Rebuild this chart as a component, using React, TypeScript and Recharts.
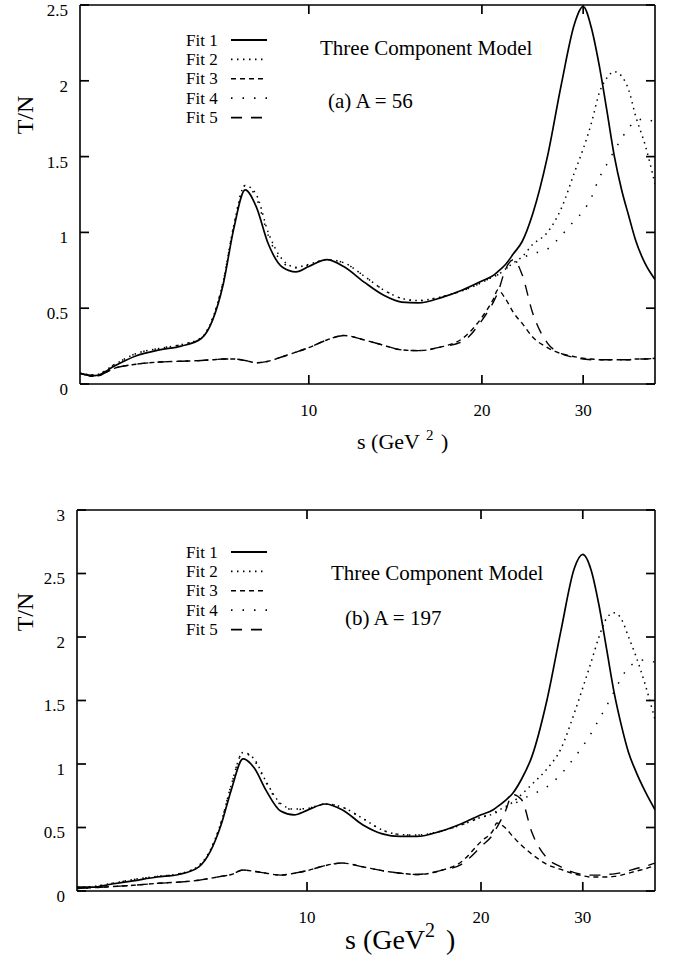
import React from 'react';
import { LineChart, Line, XAxis, YAxis, Legend } from 'recharts';

// s (GeV^2) sample points shared by all curves
const sValues = [4, 4.25, 4.6, 5, 5.5, 6, 6.5, 6.8, 7.1, 7.4, 7.75, 8.1, 8.5, 9, 9.5, 10, 10.75, 11.5, 12.5, 13.5, 14.5, 15.5, 17, 18.5, 20, 21, 21.3, 22, 22.7, 23.5, 24.5, 26, 27.5, 29, 30, 31, 32, 33, 34, 35, 36, 37, 38.5, 40];

// Panel (a) A = 56
const fit1A = [0.07, 0.055, 0.12, 0.185, 0.225, 0.25, 0.3, 0.42, 0.66, 1.02, 1.28, 1.17, 0.925, 0.77, 0.74, 0.775, 0.82, 0.775, 0.67, 0.585, 0.54, 0.535, 0.57, 0.62, 0.68, 0.72, 0.74, 0.79, 0.86, 0.94, 1.12, 1.5, 1.98, 2.38, 2.49, 2.35, 2.1, 1.8, 1.5, 1.28, 1.11, 0.95, 0.79, 0.69];
const fit2A = [0.07, 0.06, 0.13, 0.2, 0.235, 0.26, 0.305, 0.43, 0.68, 1.04, 1.31, 1.25, 1.0, 0.82, 0.77, 0.79, 0.82, 0.8, 0.71, 0.62, 0.565, 0.55, 0.575, 0.615, 0.67, 0.71, 0.72, 0.76, 0.8, 0.84, 0.92, 1.0, 1.16, 1.4, 1.55, 1.72, 1.92, 2.02, 2.06, 2.03, 1.94, 1.77, 1.57, 1.32];
const fit3A = [0.07, 0.05, 0.105, 0.13, 0.145, 0.15, 0.155, 0.16, 0.165, 0.165, 0.155, 0.14, 0.15, 0.18, 0.21, 0.24, 0.29, 0.32, 0.29, 0.255, 0.225, 0.22, 0.245, 0.3, 0.44, 0.57, 0.62, 0.56, 0.47, 0.4, 0.31, 0.24, 0.2, 0.18, 0.17, 0.165, 0.16, 0.16, 0.16, 0.16, 0.16, 0.165, 0.165, 0.17];
const fit4A = [0.07, 0.06, 0.13, 0.2, 0.235, 0.26, 0.305, 0.43, 0.68, 1.04, 1.31, 1.23, 0.98, 0.8, 0.765, 0.785, 0.82, 0.8, 0.71, 0.62, 0.565, 0.55, 0.575, 0.615, 0.67, 0.71, 0.72, 0.76, 0.79, 0.83, 0.86, 0.89, 0.98, 1.08, 1.14, 1.23, 1.36, 1.45, 1.54, 1.62, 1.69, 1.73, 1.75, 1.72];
const fit5A = [0.07, 0.05, 0.105, 0.13, 0.145, 0.15, 0.155, 0.16, 0.165, 0.165, 0.155, 0.14, 0.15, 0.18, 0.21, 0.24, 0.29, 0.32, 0.29, 0.255, 0.225, 0.22, 0.245, 0.28, 0.42, 0.55, 0.6, 0.76, 0.82, 0.72, 0.47, 0.27, 0.2, 0.175, 0.165, 0.16, 0.16, 0.16, 0.16, 0.16, 0.16, 0.165, 0.165, 0.17];

// Panel (b) A = 197
const fit1B = [0.03, 0.03, 0.055, 0.08, 0.11, 0.13, 0.19, 0.31, 0.52, 0.8, 1.04, 0.97, 0.79, 0.63, 0.6, 0.635, 0.685, 0.64, 0.52, 0.45, 0.43, 0.43, 0.47, 0.53, 0.6, 0.64, 0.66, 0.71, 0.77, 0.88, 1.06, 1.5, 2.05, 2.54, 2.65, 2.53, 2.25, 1.9, 1.56, 1.3, 1.09, 0.95, 0.78, 0.64];
const fit2B = [0.03, 0.035, 0.06, 0.09, 0.115, 0.135, 0.2, 0.32, 0.54, 0.84, 1.09, 1.04, 0.86, 0.69, 0.645, 0.65, 0.685, 0.66, 0.57, 0.48, 0.445, 0.44, 0.47, 0.52, 0.58, 0.61, 0.63, 0.66, 0.7, 0.76, 0.84, 0.96, 1.12, 1.4, 1.6, 1.8, 2.0, 2.15, 2.19, 2.14, 2.0, 1.86, 1.62, 1.35];
const fit3B = [0.02, 0.025, 0.035, 0.045, 0.06, 0.07, 0.085, 0.1, 0.115, 0.13, 0.165, 0.155, 0.14, 0.125, 0.14, 0.16, 0.2, 0.22, 0.19, 0.16, 0.14, 0.13, 0.16, 0.23, 0.39, 0.48, 0.535, 0.5, 0.43, 0.36, 0.29, 0.21, 0.17, 0.135, 0.12, 0.11, 0.11, 0.11, 0.115, 0.125, 0.14, 0.155, 0.175, 0.2];
const fit4B = [0.03, 0.035, 0.06, 0.09, 0.115, 0.135, 0.2, 0.32, 0.54, 0.84, 1.09, 1.03, 0.85, 0.68, 0.64, 0.65, 0.685, 0.66, 0.57, 0.48, 0.445, 0.44, 0.47, 0.52, 0.58, 0.61, 0.62, 0.65, 0.68, 0.72, 0.76, 0.82, 0.92, 1.05, 1.14, 1.24, 1.35, 1.46, 1.57, 1.68, 1.76, 1.8, 1.82, 1.8];
const fit5B = [0.02, 0.025, 0.035, 0.045, 0.06, 0.07, 0.085, 0.1, 0.115, 0.13, 0.165, 0.155, 0.14, 0.125, 0.14, 0.16, 0.2, 0.22, 0.19, 0.16, 0.14, 0.13, 0.16, 0.21, 0.35, 0.45, 0.5, 0.62, 0.76, 0.72, 0.46, 0.26, 0.19, 0.145, 0.13, 0.125, 0.125, 0.13, 0.135, 0.145, 0.16, 0.175, 0.195, 0.22];

const xTicks = [10, 20, 30];
const yTicksA = [0, 0.5, 1, 1.5, 2, 2.5];
const yTicksB = [0, 0.5, 1, 1.5, 2, 2.5, 3];
const fitNames = ['Fit 1', 'Fit 2', 'Fit 3', 'Fit 4', 'Fit 5'];
const fitKeys = ['fit1', 'fit2', 'fit3', 'fit4', 'fit5'];

const SERIF = "'Liberation Serif', 'DejaVu Serif', serif";
const TICK_LEN = 9;
const TICK_W = 1.7;

const lineStyles = [
  { dash: undefined as string | undefined, width: 1.7 },
  { dash: '1.5 4.5', width: 1.5 },
  { dash: '5 4', width: 1.4 },
  { dash: '1.5 10', width: 1.5 },
  { dash: '11 9', width: 1.4 },
];

function buildRows(series: number[][]) {
  return sValues.map((s, i) => {
    const row: Record<string, number> = { s };
    fitKeys.forEach((k, j) => {
      row[k] = series[j][i];
    });
    return row;
  });
}

const dataA = buildRows([fit1A, fit2A, fit3A, fit4A, fit5A]);
const dataB = buildRows([fit1B, fit2B, fit3B, fit4B, fit5B]);

// Custom tick renderers: inward tick marks plus labels outside
const LEFT_MARGIN = 12;
const BOTTOM_MARGIN = 20;

const LeftTick = (props: any) => {
  const { x, y, payload } = props;
  const ax = x + LEFT_MARGIN;
  return (
    <g>
      <line x1={ax} x2={ax + TICK_LEN} y1={y} y2={y} stroke="#000" strokeWidth={TICK_W} />
      <text x={x} y={y + 5} dy="0.35em" textAnchor="end" fontFamily={SERIF} fontSize={17} fill="#000">
        {payload.value}
      </text>
    </g>
  );
};

const BottomTick = (props: any) => {
  const { x, y, payload } = props;
  const ay = y - BOTTOM_MARGIN;
  return (
    <g>
      <line x1={x} x2={x} y1={ay} y2={ay - TICK_LEN} stroke="#000" strokeWidth={TICK_W} />
      <text x={x} y={y + 11.5} textAnchor="middle" fontFamily={SERIF} fontSize={17} fill="#000">
        {payload.value}
      </text>
    </g>
  );
};

const TopTick = (props: any) => {
  const { x, y } = props;
  return <line x1={x} x2={x} y1={y} y2={y + TICK_LEN} stroke="#000" strokeWidth={TICK_W} />;
};

const RightTick = (props: any) => {
  const { x, y } = props;
  return <line x1={x} x2={x - TICK_LEN} y1={y} y2={y} stroke="#000" strokeWidth={TICK_W} />;
};

const renderLegend = (props: any) => {
  const payload = (props && props.payload) || [];
  return (
    <svg width={90} height={100} style={{ overflow: 'visible', display: 'block' }}>
      {payload.map((entry: any, i: number) => {
        const cy = 10 + i * 19.4;
        const st = lineStyles[i] || lineStyles[0];
        return (
          <g key={i}>
            <text x={0} y={cy + 5.5} fontFamily={SERIF} fontSize={17} fill="#000">
              {entry.value}
            </text>
            <line x1={45} x2={81} y1={cy} y2={cy} stroke="#000" strokeWidth={st.width + 0.2} strokeDasharray={st.dash} />
          </g>
        );
      })}
    </svg>
  );
};

type PanelProps = {
  data: Record<string, number>[];
  yTicks: number[];
  yMax: number;
  margin: { top: number; right: number; left: number; bottom: number };
  height: number;
  legendTop: number;
};

function Panel({ data, yTicks, yMax, margin, height, legendTop }: PanelProps) {
  const axisStroke = { stroke: '#000', strokeWidth: 1.6 };
  return (
    <LineChart width={673} height={height} data={data} margin={margin}>
      <XAxis
        dataKey="s"
        type="number"
        scale="log"
        domain={[4, 40]}
        allowDataOverflow
        ticks={xTicks}
        interval={0}
        height={50}
        tickSize={0}
        tickMargin={BOTTOM_MARGIN}
        axisLine={axisStroke}
        tickLine={false}
        tick={BottomTick}
      />
      <XAxis
        xAxisId="top"
        orientation="top"
        dataKey="s"
        type="number"
        scale="log"
        domain={[4, 40]}
        allowDataOverflow
        ticks={xTicks}
        interval={0}
        height={5}
        tickSize={0}
        tickMargin={0}
        axisLine={axisStroke}
        tickLine={false}
        tick={TopTick}
      />
      <YAxis
        type="number"
        domain={[0, yMax]}
        ticks={yTicks}
        interval={0}
        allowDataOverflow
        width={40}
        tickSize={0}
        tickMargin={LEFT_MARGIN}
        axisLine={axisStroke}
        tickLine={false}
        tick={LeftTick}
      />
      <YAxis
        yAxisId="right"
        orientation="right"
        type="number"
        domain={[0, yMax]}
        ticks={yTicks}
        interval={0}
        allowDataOverflow
        width={10}
        tickSize={0}
        tickMargin={0}
        axisLine={axisStroke}
        tickLine={false}
        tick={RightTick}
      />
      <Legend
        layout="vertical"
        align="center"
        verticalAlign="middle"
        content={renderLegend}
        wrapperStyle={{ left: 186, top: legendTop, width: 90, height: 100 }}
      />
      {fitKeys.map((k, i) => (
        <Line
          key={k}
          dataKey={k}
          name={fitNames[i]}
          type="monotone"
          stroke="#000"
          strokeWidth={lineStyles[i].width}
          strokeDasharray={lineStyles[i].dash}
          dot={false}
          activeDot={false}
          isAnimationActive={false}
        />
      ))}
    </LineChart>
  );
}

export default function App() {
  const textProps = { fontFamily: SERIF, fill: '#000' };
  return (
    <div style={{ position: 'absolute', left: 0, top: 0, width: 673, height: 962, background: '#fff' }}>
      <div style={{ position: 'absolute', left: 0, top: 0 }}>
        <Panel
          data={dataA}
          yTicks={yTicksA}
          yMax={2.5}
          height={480}
          margin={{ top: 0, right: 8, left: 40, bottom: 46 }}
          legendTop={30}
        />
      </div>
      <div style={{ position: 'absolute', left: 0, top: 480 }}>
        <Panel
          data={dataB}
          yTicks={yTicksB}
          yMax={3}
          height={482}
          margin={{ top: 25, right: 8, left: 37, bottom: 21 }}
          legendTop={62}
        />
      </div>
      <svg width={673} height={962} style={{ position: 'absolute', left: 0, top: 0, pointerEvents: 'none' }}>
        <text {...textProps} fontSize={24} textAnchor="middle" transform="translate(33,115) rotate(-90)">T/N</text>
        <text {...textProps} fontSize={24} textAnchor="middle" transform="translate(33,612) rotate(-90)">T/N</text>
        <text {...textProps} fontSize={21} x={320} y={55}>Three Component Model</text>
        <text {...textProps} fontSize={21} x={328} y={108}>(a) A = 56</text>
        <text {...textProps} fontSize={21} x={331} y={580}>Three Component Model</text>
        <text {...textProps} fontSize={21} x={345} y={625}>(b) A = 197</text>
        <text {...textProps} fontSize={22} x={357} y={449}>
          s (GeV<tspan dx={6} dy={-9} fontSize={15}>2</tspan><tspan dx={2} dy={9}> )</tspan>
        </text>
        <text {...textProps} fontSize={28} x={345} y={949}>
          s (GeV<tspan dy={-12} fontSize={20}>2</tspan><tspan dx={4} dy={12}> )</tspan>
        </text>
      </svg>
    </div>
  );
}
